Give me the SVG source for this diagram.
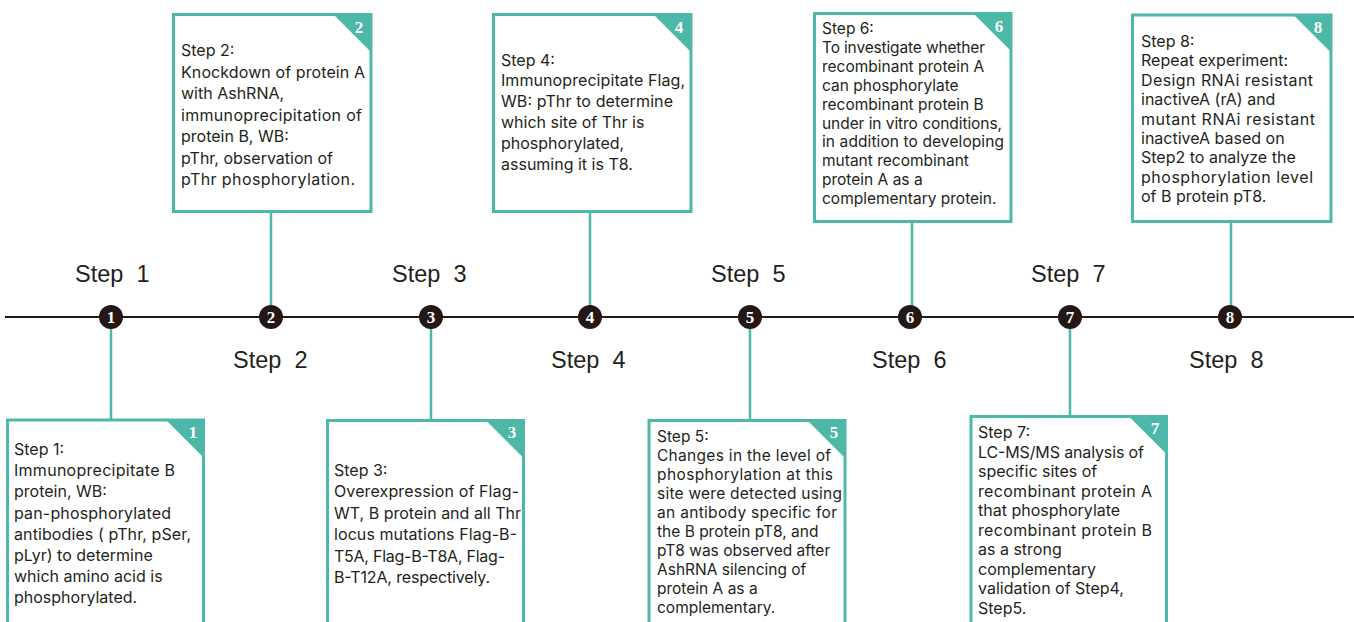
<svg xmlns="http://www.w3.org/2000/svg" width="1354" height="622" viewBox="0 0 1354 622">
<style>
.box{fill:#fff;stroke:#4db8a8;stroke-width:3}
.tri{fill:#4db8a8}
.num{font-family:"Liberation Serif",serif;font-weight:bold;font-size:17px;fill:#fff;text-anchor:middle}
.conn{stroke:#4db8a8;stroke-width:2.5;fill:none}
.axis{stroke:#231815;stroke-width:2}
.dot{fill:#231815}
.dnum{font-family:"Liberation Serif",serif;font-weight:bold;font-size:17px;fill:#fff;text-anchor:middle}
.lbl{font-family:"Liberation Sans",Arial,sans-serif;font-size:23.5px;fill:#231f20;white-space:pre}
.t{font-family:Inter,"Open Sans",sans-serif;font-size:16px;fill:#231f20}
.t2{font-family:Inter,"Open Sans",sans-serif;font-size:15.5px;fill:#231f20}
</style>
<g id="connectors">
<line class="axis" x1="5" y1="317" x2="1354" y2="317"/>
<line class="conn" x1="111" y1="317" x2="111" y2="420"/>
<line class="conn" x1="271" y1="212" x2="271" y2="317"/>
<line class="conn" x1="431" y1="317" x2="431" y2="420"/>
<line class="conn" x1="590" y1="213" x2="590" y2="317"/>
<line class="conn" x1="750" y1="317" x2="750" y2="420"/>
<line class="conn" x1="912" y1="222" x2="912" y2="317"/>
<line class="conn" x1="1070" y1="317" x2="1070" y2="417"/>
<line class="conn" x1="1231" y1="222" x2="1231" y2="317"/>
</g>
<g id="timeline-dots">
<circle class="dot" cx="111" cy="317" r="12"/><text class="dnum" x="111" y="323">1</text>
<circle class="dot" cx="271" cy="317" r="12"/><text class="dnum" x="271" y="323">2</text>
<circle class="dot" cx="431" cy="317" r="12"/><text class="dnum" x="431" y="323">3</text>
<circle class="dot" cx="590" cy="317" r="12"/><text class="dnum" x="590" y="323">4</text>
<circle class="dot" cx="750" cy="317" r="12"/><text class="dnum" x="750" y="323">5</text>
<circle class="dot" cx="910" cy="317" r="12"/><text class="dnum" x="910" y="323">6</text>
<circle class="dot" cx="1070" cy="317" r="12"/><text class="dnum" x="1070" y="323">7</text>
<circle class="dot" cx="1230" cy="317" r="12"/><text class="dnum" x="1230" y="323">8</text>
</g>
<g id="step-labels">
<text class="lbl" x="75" y="282">Step  1</text>
<text class="lbl" x="233" y="368">Step  2</text>
<text class="lbl" x="392" y="282">Step  3</text>
<text class="lbl" x="551" y="368">Step  4</text>
<text class="lbl" x="711" y="282">Step  5</text>
<text class="lbl" x="872" y="368">Step  6</text>
<text class="lbl" x="1031" y="282">Step  7</text>
<text class="lbl" x="1189" y="368">Step  8</text>
</g>
<g id="box1">
<rect class="box" x="7.5" y="420" width="196" height="220"/>
<path class="tri" d="M166,420 L203.5,420 L203.5,457.5 Z"/>
<text class="num" x="193" y="438">1</text>
<text class="t">
<tspan x="14" y="455">Step 1:</tspan>
<tspan x="14" y="476.2" textLength="161">Immunoprecipitate B</tspan>
<tspan x="14" y="497.4">protein, WB:</tspan>
<tspan x="14" y="518.6" textLength="157">pan-phosphorylated</tspan>
<tspan x="14" y="539.8" textLength="177">antibodies ( pThr, pSer,</tspan>
<tspan x="14" y="561">pLyr) to determine</tspan>
<tspan x="14" y="582.2">which amino acid is</tspan>
<tspan x="14" y="603.4">phosphorylated.</tspan>
</text>
</g>
<g id="box2">
<rect class="box" x="173.5" y="14.5" width="197.5" height="197"/>
<path class="tri" d="M333.5,14.5 L371,14.5 L371,52 Z"/>
<text class="num" x="359" y="33">2</text>
<text class="t">
<tspan x="181" y="56">Step 2:</tspan>
<tspan x="181" y="77.5" textLength="184">Knockdown of protein A</tspan>
<tspan x="181" y="99">with AshRNA,</tspan>
<tspan x="181" y="120.5" textLength="181">immunoprecipitation of</tspan>
<tspan x="181" y="142">protein B, WB:</tspan>
<tspan x="181" y="163.5">pThr, observation of</tspan>
<tspan x="181" y="185" textLength="174">pThr phosphorylation.</tspan>
</text>
</g>
<g id="box3">
<rect class="box" x="327.5" y="420.5" width="196" height="220"/>
<path class="tri" d="M486,420.5 L523.5,420.5 L523.5,458 Z"/>
<text class="num" x="512" y="438">3</text>
<text class="t">
<tspan x="334" y="476">Step 3:</tspan>
<tspan x="334" y="497.4" textLength="185">Overexpression of Flag-</tspan>
<tspan x="334" y="518.8" textLength="187">WT, B protein and all Thr</tspan>
<tspan x="334" y="540.2" textLength="183">locus mutations Flag-B-</tspan>
<tspan x="334" y="561.6" textLength="171">T5A, Flag-B-T8A, Flag-</tspan>
<tspan x="334" y="583" textLength="156">B-T12A, respectively.</tspan>
</text>
</g>
<g id="box4">
<rect class="box" x="493.5" y="14.5" width="197.5" height="197"/>
<path class="tri" d="M653.5,14.5 L691,14.5 L691,52 Z"/>
<text class="num" x="679" y="33">4</text>
<text class="t">
<tspan x="501" y="65.5">Step 4:</tspan>
<tspan x="501" y="86.3" textLength="184">Immunoprecipitate Flag,</tspan>
<tspan x="501" y="107.1" textLength="172">WB: pThr to determine</tspan>
<tspan x="501" y="127.9">which site of Thr is</tspan>
<tspan x="501" y="148.7">phosphorylated,</tspan>
<tspan x="501" y="169.5">assuming it is T8.</tspan>
</text>
</g>
<g id="box5">
<rect class="box" x="649" y="420.5" width="196" height="220"/>
<path class="tri" d="M807.5,420.5 L845,420.5 L845,458 Z"/>
<text class="num" x="834" y="438">5</text>
<text class="t2">
<tspan x="657" y="442">Step 5:</tspan>
<tspan x="657" y="461" textLength="174">Changes in the level of</tspan>
<tspan x="657" y="480" textLength="176">phosphorylation at this</tspan>
<tspan x="657" y="499" textLength="185">site were detected using</tspan>
<tspan x="657" y="518" textLength="180">an antibody specific for</tspan>
<tspan x="657" y="537">the B protein pT8, and</tspan>
<tspan x="657" y="556">pT8 was observed after</tspan>
<tspan x="657" y="575">AshRNA silencing of</tspan>
<tspan x="657" y="594">protein A as a</tspan>
<tspan x="657" y="613">complementary.</tspan>
</text>
</g>
<g id="box6">
<rect class="box" x="814.5" y="13.5" width="196.5" height="208"/>
<path class="tri" d="M973.5,13.5 L1011,13.5 L1011,51 Z"/>
<text class="num" x="999" y="32">6</text>
<text class="t2">
<tspan x="822" y="34">Step 6:</tspan>
<tspan x="822" y="52.9" textLength="163">To investigate whether</tspan>
<tspan x="822" y="71.8">recombinant protein A</tspan>
<tspan x="822" y="90.7">can phosphorylate</tspan>
<tspan x="822" y="109.6">recombinant protein B</tspan>
<tspan x="822" y="128.5" textLength="180">under in vitro conditions,</tspan>
<tspan x="822" y="147.4" textLength="182">in addition to developing</tspan>
<tspan x="822" y="166.3">mutant recombinant</tspan>
<tspan x="822" y="185.2">protein A as a</tspan>
<tspan x="822" y="204.1">complementary protein.</tspan>
</text>
</g>
<g id="box7">
<rect class="box" x="971" y="416.5" width="195.5" height="224"/>
<path class="tri" d="M1129,416.5 L1166.5,416.5 L1166.5,454 Z"/>
<text class="num" x="1155" y="434">7</text>
<text class="t">
<tspan x="978" y="438">Step 7:</tspan>
<tspan x="978" y="457.5" textLength="166">LC-MS/MS analysis of</tspan>
<tspan x="978" y="477">specific sites of</tspan>
<tspan x="978" y="496.5" textLength="174">recombinant protein A</tspan>
<tspan x="978" y="516">that phosphorylate</tspan>
<tspan x="978" y="535.5" textLength="174">recombinant protein B</tspan>
<tspan x="978" y="555">as a strong</tspan>
<tspan x="978" y="574.5">complementary</tspan>
<tspan x="978" y="594">validation of Step4,</tspan>
<tspan x="978" y="613.5">Step5.</tspan>
</text>
</g>
<g id="box8">
<rect class="box" x="1132.5" y="15" width="198.5" height="206.5"/>
<path class="tri" d="M1293.5,15 L1331,15 L1331,52.5 Z"/>
<text class="num" x="1318" y="33">8</text>
<text class="t">
<tspan x="1141" y="47">Step 8:</tspan>
<tspan x="1141" y="66.4">Repeat experiment:</tspan>
<tspan x="1141" y="85.8" textLength="172">Design RNAi resistant</tspan>
<tspan x="1141" y="105.2">inactiveA (rA) and</tspan>
<tspan x="1141" y="124.6" textLength="174">mutant RNAi resistant</tspan>
<tspan x="1141" y="144">inactiveA based on</tspan>
<tspan x="1141" y="163.4">Step2 to analyze the</tspan>
<tspan x="1141" y="182.8" textLength="172">phosphorylation level</tspan>
<tspan x="1141" y="202.2">of B protein pT8.</tspan>
</text>
</g>
</svg>
